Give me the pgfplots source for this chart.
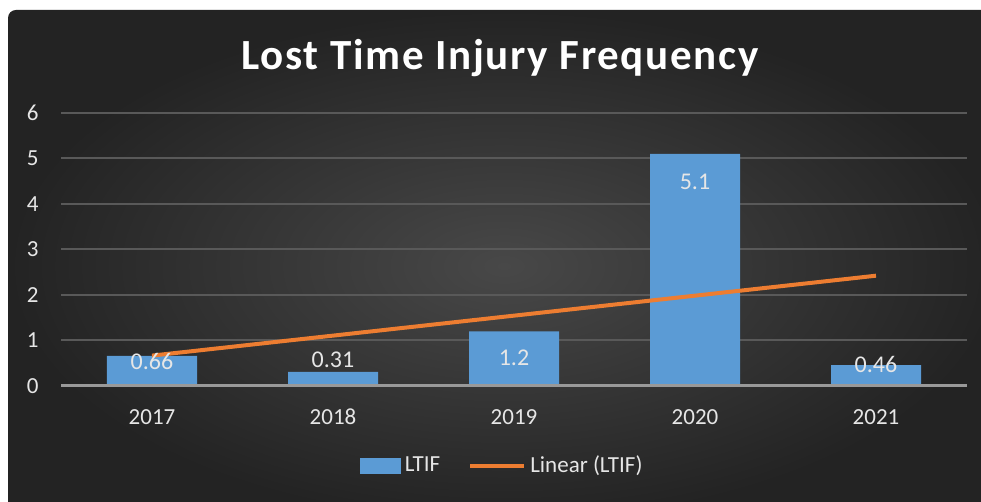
\documentclass[border=0pt]{standalone}
\usepackage{pgfplots}
\pgfplotsset{compat=1.18}
\usepackage{fontspec}
\setmainfont{Carlito}
\definecolor{barblue}{HTML}{5B9BD5}
\definecolor{trendorange}{HTML}{ED7D31}
\definecolor{txtgray}{HTML}{E6E6E6}
\definecolor{gridgray}{HTML}{595959}
\definecolor{bgin}{HTML}{484848}
\definecolor{bgout}{HTML}{232323}
\begin{document}
\begin{tikzpicture}[x=1pt,y=1pt]
\useasboundingbox (0,0) rectangle (490.5,251);
\fill[white] (0,0) rectangle (490.5,251);
\begin{scope}
\clip (0,0) rectangle (490.5,251);
\shade[inner color=bgin, outer color=bgout, rounded corners=4pt] (4,-10) rectangle (500,246);
\end{scope}
\node[text=white, font=\fontsize{21.5}{26}\selectfont\bfseries\addfontfeatures{LetterSpace=4}] at (250,222) {Lost Time Injury Frequency};
\begin{axis}[
  at={(30.75pt,58pt)}, anchor=south west,
  scale only axis, width=452.5pt, height=136.5pt,
  xmin=-0.5, xmax=4.5, ymin=0, ymax=6,
  xtick={0,1,2,3,4}, xticklabels={2017,2018,2019,2020,2021},
  ytick={0,1,2,3,4,5,6},
  ymajorgrids, grid style={gridgray, line width=1pt},
  axis line style={draw=none},
  tick style={draw=none},
  ticklabel style={text=txtgray, font=\fontsize{11.5}{13}\selectfont},
  /pgf/number format/assume math mode=true,
  xticklabel style={yshift=-8pt, text height=1.6ex, text depth=0.2ex},
  yticklabel style={xshift=-8pt},
  clip=false,
  legend columns=2,
  legend style={at={(0.488,-0.293)}, anchor=center, draw=none, fill=none,
    text=txtgray, font=\fontsize{11.5}{13}\selectfont,
    /tikz/every even column/.append style={column sep=12pt}},
  legend cell align=left,
]
\addplot[ybar, bar width=45pt, fill=barblue, draw=none, bar shift=0pt,
  area legend,
  legend image code/.code={\fill[barblue] (-2pt,-4pt) rectangle (18.5pt,4pt);}]
  coordinates {(0,0.66) (1,0.31) (2,1.2) (3,5.1) (4,0.46)};
\addlegendentry{LTIF}
\addplot[trendorange, line width=2pt, mark=none,
  legend image code/.code={\draw[trendorange, line width=2pt] (0cm,0cm) -- (27pt,0cm);}]
  coordinates {(0,0.668) (4,2.424)};
\addlegendentry{Linear (LTIF)}
\draw[color=gray!80, line width=1.5pt] (axis cs:-0.5,0) -- (axis cs:4.5,0);
\addplot[only marks, mark=none, nodes near coords, point meta=explicit symbolic,
  nodes near coords style={anchor=center, text=txtgray, font=\fontsize{12}{14}\selectfont}]
  coordinates {(0,0.53)[0.66] (1,0.57)[0.31] (2,0.62)[1.2] (3,4.48)[5.1] (4,0.48)[0.46]};
\end{axis}
\end{tikzpicture}
\end{document}
